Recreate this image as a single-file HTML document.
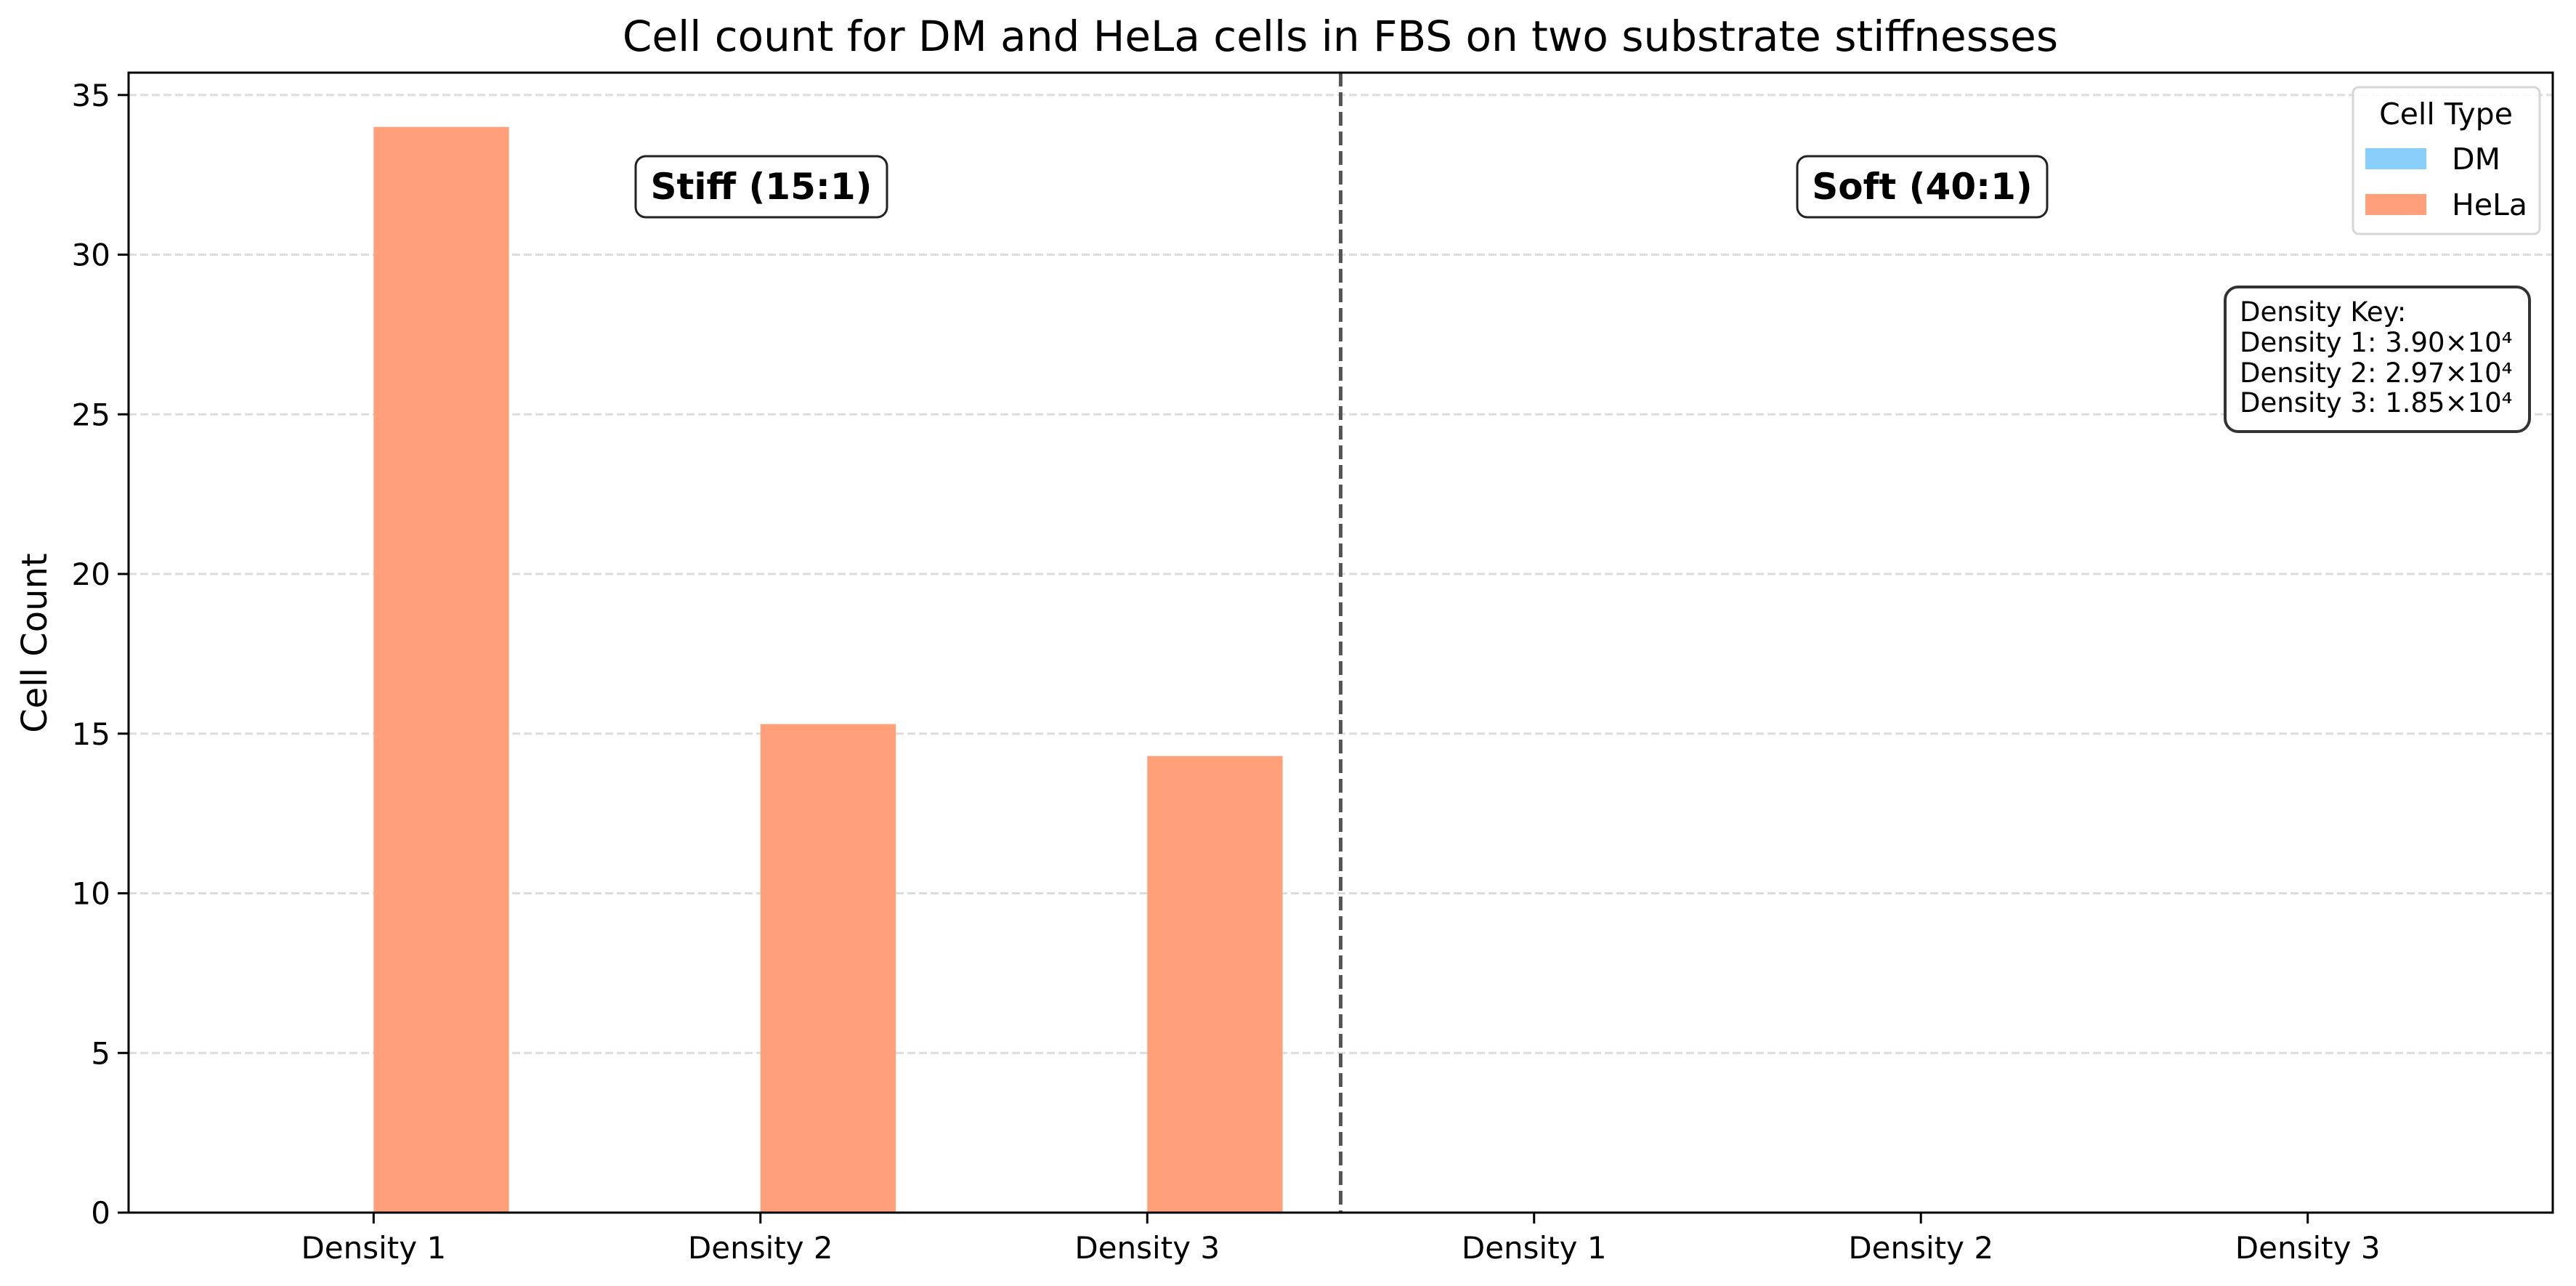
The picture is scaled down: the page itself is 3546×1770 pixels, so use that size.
<!DOCTYPE html>
<html><head><meta charset="utf-8"><style>
html,body{margin:0;padding:0;background:#fff}
svg{display:block;font-family:"DejaVu Sans","Liberation Sans",sans-serif}
</style></head><body>
<svg id="chart" width="3546" height="1770" viewBox="0 0 3546 1770" xmlns="http://www.w3.org/2000/svg">
<rect width="3546" height="1770" fill="#fff"/>
<g id="grid"></g>
<g id="bars"></g>
<g id="axes"></g>
<text x="1845" y="70" font-size="58" text-anchor="middle">Cell count for DM and HeLa cells in FBS on two substrate stiffnesses</text>
<text transform="translate(64,885) rotate(-90)" font-size="48" text-anchor="middle">Cell Count</text>
<g>
<rect x="875" y="215" width="346" height="84" rx="14" fill="#fff" stroke="#222" stroke-width="3"/>
<text x="1048" y="274" font-size="50" font-weight="bold" text-anchor="middle">Stiff (15:1)</text>
</g>
<g>
<rect x="2474" y="215" width="344" height="84" rx="14" fill="#fff" stroke="#222" stroke-width="3"/>
<text x="2646" y="274" font-size="50" font-weight="bold" text-anchor="middle">Soft (40:1)</text>
</g>
<g>
<rect x="3239" y="120" width="257" height="202" rx="8" fill="#fff" fill-opacity="0.8" stroke="#d6d6d6" stroke-width="3"/>
<text x="3367" y="171" font-size="41" text-anchor="middle">Cell Type</text>
<rect x="3256" y="204" width="84" height="29" fill="#87cefa"/>
<text x="3375" y="233" font-size="41">DM</text>
<rect x="3256" y="267" width="84" height="29" fill="#ffa07a"/>
<text x="3375" y="296" font-size="41">HeLa</text>
</g>
<g>
<rect x="3063" y="395" width="419" height="199" rx="18" fill="#fff" stroke="#333" stroke-width="4"/>
<text x="3083" y="442" font-size="37">Density Key:</text>
<text x="3083" y="484" font-size="37">Density 1: 3.90×10⁴</text>
<text x="3083" y="526" font-size="37">Density 2: 2.97×10⁴</text>
<text x="3083" y="567" font-size="37">Density 3: 1.85×10⁴</text>
</g>
</svg>
<script>
const categories = ["Density 1","Density 2","Density 3","Density 1","Density 2","Density 3"];
const dmValues = [0,0,0,0,0,0];
const helaValues = [34,15.3,14.3,0,0,0];
const yTicks = [0,5,10,15,20,25,30,35];
const separatorAt = 2.5;

const NS="http://www.w3.org/2000/svg";
const L=177,R=3514,T=100,B=1669;
const xMin=-0.6335,xMax=5.6335,yMin=0,yMax=35.7;
const barW=0.35;
function xs(v){return L+(v-xMin)/(xMax-xMin)*(R-L);}
function ys(v){return B-(v-yMin)/(yMax-yMin)*(B-T);}
function mk(tag,attrs,parent){const e=document.createElementNS(NS,tag);for(const k in attrs)e.setAttribute(k,attrs[k]);parent.appendChild(e);return e;}
const grid=document.getElementById('grid'),bars=document.getElementById('bars'),axes=document.getElementById('axes');
yTicks.forEach(t=>{
  if(t>0){const g=mk('line',{x1:L,x2:R,y1:ys(t),y2:ys(t),stroke:'#dcdcdc','stroke-width':3,'stroke-dasharray':'11 5'},grid);
  
  }
  const tk=mk('line',{x1:L-15,x2:L,y1:ys(t),y2:ys(t),stroke:'#000','stroke-width':3},axes);
  
  
  const lb=mk('text',{x:L-25,y:ys(t)+15,'font-size':42,'text-anchor':'end'},axes);
  lb.textContent=t;
  
  
});
categories.forEach((c,i)=>{
  if(dmValues[i]>0){const b=mk('rect',{x:xs(i-barW),y:ys(dmValues[i]),width:xs(barW)-xs(0),height:ys(0)-ys(dmValues[i]),fill:'#87cefa'},bars);
  
  }
  if(helaValues[i]>0){const b=mk('rect',{x:xs(i),y:ys(helaValues[i]),width:xs(barW)-xs(0),height:ys(0)-ys(helaValues[i]),fill:'#ffa07a'},bars);
  
  }
  const tk=mk('line',{x1:xs(i),x2:xs(i),y1:B,y2:B+15,stroke:'#000','stroke-width':3},axes);
  
  
  const lb=mk('text',{x:xs(i),y:B+63,'font-size':42,'text-anchor':'middle'},axes);
  lb.textContent=c;
  
  
});
const sep=mk('line',{x1:xs(separatorAt),x2:xs(separatorAt),y1:T,y2:B,stroke:'#555','stroke-width':5,'stroke-dasharray':'19 8'},axes);


const frame=mk('rect',{x:L,y:T,width:R-L,height:B-T,fill:'none',stroke:'#000','stroke-width':3},axes);


</script>
</body></html>
